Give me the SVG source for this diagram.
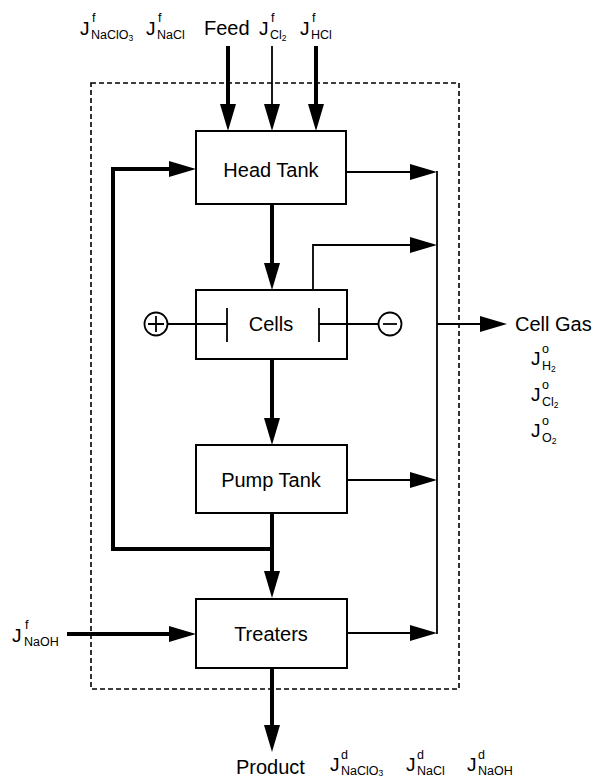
<svg xmlns="http://www.w3.org/2000/svg" width="592" height="780" viewBox="0 0 592 780">
<style>
text{font-family:"Liberation Sans",Arial,sans-serif;fill:#000}
.lbl{font-size:20px;text-anchor:middle}
.t{font-size:20px}
.J{font-size:19px}
.sb{font-size:12.5px}
.sb2{font-size:8.5px}
.box{fill:#fff;stroke:#000;stroke-width:2}
.thick{stroke:#000;stroke-width:4;fill:none}
.thin{stroke:#000;stroke-width:1.8;fill:none}
</style>
<defs>
<marker id="ah" markerUnits="userSpaceOnUse" markerWidth="27" markerHeight="16" refX="0" refY="8" orient="auto">
<path d="M0,0 L27,8 L0,16 z" fill="#000"/>
</marker>
</defs>
<rect x="91" y="83" width="368" height="606" fill="none" stroke="#000" stroke-width="1.6" stroke-dasharray="5,3"/>
<g id="connectors">
<line class="thick" x1="228" y1="46" x2="228" y2="104" marker-end="url(#ah)"/>
<line class="thin" x1="272" y1="46" x2="272" y2="104" marker-end="url(#ah)"/>
<line class="thick" x1="316" y1="46" x2="316" y2="104" marker-end="url(#ah)"/>
<polyline class="thick" points="272,549 113,549 113,169 169,169" marker-end="url(#ah)"/>
<line class="thick" x1="272" y1="204" x2="272" y2="263" marker-end="url(#ah)"/>
<line class="thick" x1="272" y1="359" x2="272" y2="418" marker-end="url(#ah)"/>
<line class="thick" x1="272" y1="513" x2="272" y2="571" marker-end="url(#ah)"/>
<line class="thick" x1="272" y1="668" x2="272" y2="725" marker-end="url(#ah)"/>
<line class="thick" x1="67" y1="634" x2="169" y2="634" marker-end="url(#ah)"/>
<line class="thin" x1="346" y1="172" x2="410" y2="172" marker-end="url(#ah)"/>
<polyline class="thin" points="313,290 313,245 410,245" marker-end="url(#ah)"/>
<line class="thin" x1="347" y1="480" x2="410" y2="480" marker-end="url(#ah)"/>
<line class="thin" x1="347" y1="633" x2="410" y2="633" marker-end="url(#ah)"/>
<line class="thin" x1="437" y1="171" x2="437" y2="634"/>
<line class="thin" x1="437" y1="324" x2="480" y2="324" marker-end="url(#ah)"/>
</g>
<g id="head-tank">
<rect class="box" x="196" y="131" width="150" height="73"/>
<text class="lbl" x="271" y="177">Head Tank</text>
</g>
<g id="cells">
<rect class="box" x="196" y="290" width="151" height="69"/>
<line class="thin" x1="168" y1="324" x2="227" y2="324"/>
<line class="thin" x1="227" y1="308" x2="227" y2="342"/>
<line class="thin" x1="319" y1="308" x2="319" y2="342"/>
<line class="thin" x1="319" y1="324" x2="378" y2="324"/>
<text class="lbl" x="271" y="331">Cells</text>
</g>
<g id="anode">
<circle cx="156" cy="324" r="11.5" fill="#fff" stroke="#000" stroke-width="1.8"/>
<path d="M148,324 H164 M156,316 V332" stroke="#000" stroke-width="1.8"/>
</g>
<g id="cathode">
<circle cx="390" cy="324" r="11.5" fill="#fff" stroke="#000" stroke-width="1.8"/>
<path d="M383,324 H397" stroke="#000" stroke-width="1.8"/>
</g>
<g id="pump-tank">
<rect class="box" x="196" y="445" width="151" height="68"/>
<text class="lbl" x="271" y="487">Pump Tank</text>
</g>
<g id="treaters">
<rect class="box" x="196" y="599" width="151" height="69"/>
<text class="lbl" x="271" y="641">Treaters</text>
</g>
<g id="feed-labels">
<text class="J" x="80" y="35">J</text><text class="sb" x="92" y="22">f</text><text class="sb" x="91" y="39">NaClO<tspan class="sb2" dy="2">3</tspan></text>
<text class="J" x="146" y="35">J</text><text class="sb" x="158" y="22">f</text><text class="sb" x="157" y="39">NaCl</text>
<text class="t" x="204" y="35">Feed</text>
<text class="J" x="259" y="35">J</text><text class="sb" x="271" y="22">f</text><text class="sb" x="270" y="39">Cl<tspan class="sb2" dy="2">2</tspan></text>
<text class="J" x="300" y="35">J</text><text class="sb" x="312" y="22">f</text><text class="sb" x="311" y="39">HCl</text>
</g>
<g id="naoh-label">
<text class="J" x="12" y="642">J</text><text class="sb" x="25" y="629">f</text><text class="sb" x="24" y="646">NaOH</text>
</g>
<g id="cell-gas">
<text class="t" x="515" y="331">Cell Gas</text>
<text class="J" x="531" y="365">J</text><text class="sb" x="542" y="353">o</text><text class="sb" x="542" y="370">H<tspan class="sb2" dy="2">2</tspan></text>
<text class="J" x="531" y="401">J</text><text class="sb" x="542" y="389">o</text><text class="sb" x="542" y="406">Cl<tspan class="sb2" dy="2">2</tspan></text>
<text class="J" x="531" y="437">J</text><text class="sb" x="542" y="425">o</text><text class="sb" x="542" y="442">O<tspan class="sb2" dy="2">2</tspan></text>
</g>
<g id="product">
<text class="t" x="236" y="774">Product</text>
<text class="J" x="330" y="771">J</text><text class="sb" x="341" y="759">d</text><text class="sb" x="341" y="775">NaClO<tspan class="sb2" dy="1">3</tspan></text>
<text class="J" x="406" y="771">J</text><text class="sb" x="417" y="759">d</text><text class="sb" x="417" y="775">NaCl</text>
<text class="J" x="467" y="771">J</text><text class="sb" x="478" y="759">d</text><text class="sb" x="478" y="775">NaOH</text>
</g>
</svg>
